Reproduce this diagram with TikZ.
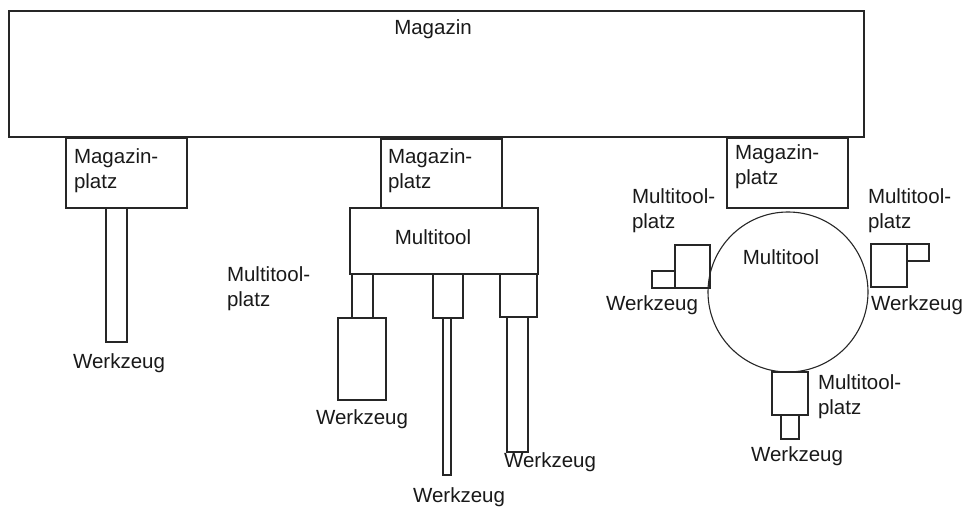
\documentclass[tikz,border=0pt]{standalone}
\usepackage{fontspec}
\setmainfont{Liberation Sans}
\newcommand{\twol}[2]{\begin{tabular}[t]{@{}l@{}}#1\\#2\end{tabular}}
\newcommand{\rb}[6][part]{\node[#1,anchor=north west,minimum width={(#5-#3)*1pt},minimum height={(#6-#4)*1pt}] (#2) at (#3,#4) {};}
\begin{document}
\begin{tikzpicture}[x=1pt,y=-1pt,
  part/.style={draw=black!85,line width=1.1pt,rectangle,inner sep=0pt,outer sep=0pt,minimum size=0pt},
  thickpart/.style={part,line width=2.3pt},
  lbl/.style={inner sep=0pt,outer sep=0pt,font=\fontsize{20.5}{25}\selectfont,text=black!90}]
\useasboundingbox (0,0) rectangle (970,510);
% Magazin
\rb{magazin}{9}{11}{864}{137}
\node[lbl,anchor=base] (tmag) at (433,35) {Magazin};
% left: Magazinplatz + Werkzeug
\rb{mp1}{66}{138}{187}{208}
\node[lbl,anchor=base west] (tmp1) at (74,164) {\twol{Magazin-}{platz}};
\rb{wz1}{106}{208}{127}{342}
\node[lbl,anchor=base] (twz1) at (119,369) {Werkzeug};
% middle
\rb[thickpart]{mp2}{381}{139}{502}{208}
\node[lbl,anchor=base west] (tmp2) at (388,164) {\twol{Magazin-}{platz}};
\rb{mt}{350}{208}{538}{274}
\node[lbl,anchor=base] (tmt) at (433,245) {Multitool};
\node[lbl,anchor=base west] (tmtp) at (227,282) {\twol{Multitool-}{platz}};
\rb{h1}{352}{274}{373}{318}
\rb{wt1}{338}{318}{386}{400}
\rb{h2}{433}{274}{463}{318}
\rb{wt2}{443}{318}{451}{475}
\rb{h3}{500}{274}{537}{317}
\rb{wt3}{507}{317}{528}{452}
\node[lbl,anchor=base] (twt1) at (362,425) {Werkzeug};
\node[lbl,anchor=base] (twt2) at (459,503) {Werkzeug};
\node[lbl,anchor=base] (twt3) at (550,468) {Werkzeug};
% right
\rb{mp3}{727}{138}{848}{208}
\node[lbl,anchor=base west] (tmp3) at (735,160) {\twol{Magazin-}{platz}};
\node[part,circle,minimum size=160pt] (mtc) at (788,292) {};
\node[lbl,anchor=base] (tmtc) at (781,265) {Multitool};
% left multitool place
\rb{hl}{675}{245}{710}{288}
\rb{wl}{652}{271}{675}{288}
\node[lbl,anchor=base west] (thl) at (632,204) {\twol{Multitool-}{platz}};
\node[lbl,anchor=base] (twl) at (652,311) {Werkzeug};
% right multitool place
\rb{hr}{871}{244}{907}{287}
\rb{wr}{907}{244}{929}{261}
\node[lbl,anchor=base west] (thr) at (868,204) {\twol{Multitool-}{platz}};
\node[lbl,anchor=base] (twr) at (917,311) {Werkzeug};
% bottom multitool place
\rb{hb}{772}{372}{808}{415}
\rb{wb}{781}{415}{799}{439}
\node[lbl,anchor=base west] (thb) at (818,390) {\twol{Multitool-}{platz}};
\node[lbl,anchor=base] (twb) at (797,462) {Werkzeug};
\end{tikzpicture}
\end{document}
